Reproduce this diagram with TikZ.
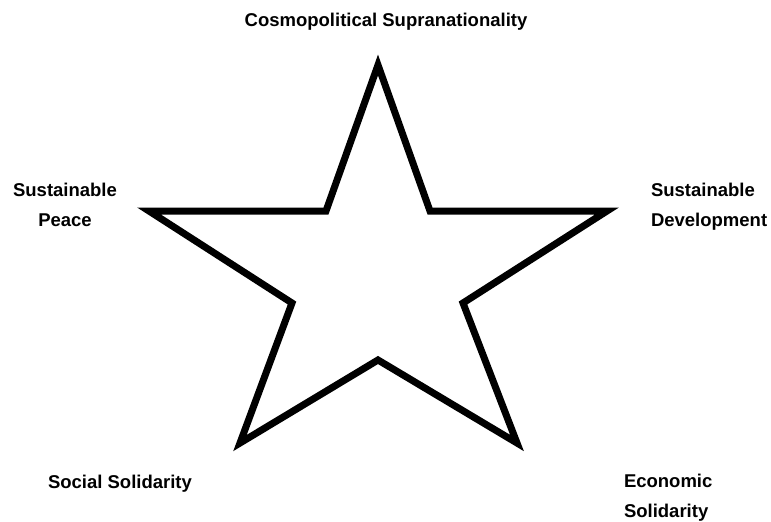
\documentclass[tikz,border=0pt]{standalone}
\usepackage{fontspec}
\setmainfont{Liberation Sans}
\begin{document}
\begin{tikzpicture}[x=1pt,y=-1pt,
  starline/.style={draw=black,line width=7pt,line join=miter,fill=white},
  lbl/.style={inner sep=0pt,outer sep=0pt,font={\fontsize{18.5}{29.5}\selectfont\bfseries}}]
\useasboundingbox (0,0) rectangle (771,522);
\coordinate (T) at (378,65);
\coordinate (A) at (326,211);
\coordinate (UL) at (149,211);
\coordinate (LI) at (292,303);
\coordinate (BL) at (240,443);
\coordinate (BI) at (378,360);
\coordinate (BR) at (517,443);
\coordinate (RI) at (463,303);
\coordinate (UR) at (607,211);
\coordinate (B) at (430,211);
\draw[starline] (T) -- (A) -- (UL) -- (LI) -- (BL) -- (BI) -- (BR) -- (RI) -- (UR) -- (B) -- cycle;
\node[lbl,anchor=base] (top) at (386,27) {Cosmopolitical Supranationality};
\node[lbl,anchor=base,align=center] (peace) at (65,226) {Sustainable\\Peace};
\node[lbl,anchor=base west,align=left] (dev) at (651,226) {Sustainable\\Development};
\node[lbl,anchor=base west] (social) at (48,488) {Social Solidarity};
\node[lbl,anchor=base west,align=left] (econ) at (624,517) {Economic\\Solidarity};
\end{tikzpicture}
\end{document}
